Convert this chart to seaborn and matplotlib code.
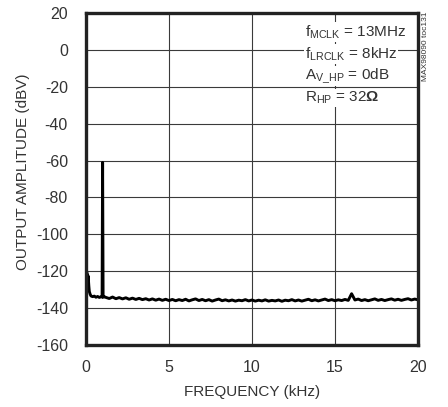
import matplotlib
matplotlib.use("Agg")
import matplotlib.pyplot as plt
from matplotlib import font_manager
import seaborn as sns
import pandas as pd

# ---- data ----
start_freq = [0.0, 0.03, 0.06, 0.1, 0.13, 0.17, 0.2, 0.25, 0.3, 0.4, 0.5, 0.6, 0.7, 0.8, 0.9, 0.97, 1.0, 1.03, 1.1]
start_amp = [-121.0, -121.5, -120.8, -125.0, -122.5, -128.0, -131.0, -132.5, -133.4, -133.8, -133.5, -134.1,
             -133.7, -134.2, -133.9, -134.0, -61.0, -134.1, -133.8]
floor_freq = [1.2, 1.4, 1.6, 1.8, 2.0, 2.2, 2.4, 2.6, 2.8, 3.0, 3.2, 3.4, 3.6, 3.8, 4.0, 4.2, 4.4, 4.6, 4.8,
              5.0, 5.2, 5.4, 5.6, 5.8, 6.0, 6.2, 6.4, 6.6, 6.8, 7.0, 7.2, 7.4, 7.6, 7.8, 8.0, 8.2, 8.4, 8.6,
              8.8, 9.0, 9.2, 9.4, 9.6, 9.8, 10.0, 10.2, 10.4, 10.6, 10.8, 11.0, 11.2, 11.4, 11.6, 11.8, 12.0,
              12.2, 12.4, 12.6, 12.8, 13.0, 13.2, 13.4, 13.6, 13.8, 14.0, 14.2, 14.4, 14.6, 14.8, 15.0, 15.2,
              15.4, 15.6, 15.8, 16.0, 16.2, 16.4, 16.6, 16.8, 17.0, 17.2, 17.4, 17.6, 17.8, 18.0, 18.2, 18.4,
              18.6, 18.8, 19.0, 19.2, 19.4, 19.6, 19.8, 20.0]
floor_amp = [-134.2, -134.8, -134.0, -134.9, -134.3, -135.0, -134.4, -135.2, -134.6, -135.3, -134.7, -135.4,
             -134.9, -135.6, -135.0, -135.7, -135.1, -135.8, -135.2, -135.9, -135.3, -136.0, -135.4, -135.9,
             -135.2, -136.1, -135.5, -135.0, -135.9, -135.3, -136.0, -135.4, -136.2, -135.6, -135.1, -136.0,
             -135.5, -136.1, -135.6, -136.2, -135.7, -136.0, -135.4, -136.1, -135.6, -136.2, -135.7, -136.1,
             -135.5, -136.2, -135.8, -136.1, -135.6, -136.3, -135.7, -136.0, -135.4, -136.1, -135.6, -136.2,
             -135.7, -135.2, -136.0, -135.5, -136.1, -135.6, -135.1, -135.9, -135.4, -136.0, -135.5, -135.9,
             -135.3, -135.8, -132.2, -135.6, -135.1, -135.9, -135.4, -136.0, -135.5, -135.0, -135.8, -135.3,
             -135.9, -135.4, -135.0, -135.7, -135.2, -135.8, -135.3, -134.9, -135.6, -135.1, -135.5]
x_ticks = [0, 5, 10, 15, 20]
y_ticks = [20, 0, -20, -40, -60, -80, -100, -120, -140, -160]
annotations = [r"f$_{\mathregular{MCLK}}$ = 13MHz", r"f$_{\mathregular{LRCLK}}$ = 8kHz",
               r"A$_{\mathregular{V\_HP}}$ = 0dB", r"R$_{\mathregular{HP}}$ = 32$\mathbf{\Omega}$"]

df = pd.DataFrame({"freq": start_freq + floor_freq, "amp": start_amp + floor_amp})

# ---- style ----
sns.set_style("white")
names = {f.name for f in font_manager.fontManager.ttflist}
fam = "Liberation Sans Narrow" if "Liberation Sans Narrow" in names else "Liberation Sans"
plt.rcParams["font.family"] = [fam, "DejaVu Sans"]
plt.rcParams["mathtext.fontset"] = "custom"
plt.rcParams["mathtext.rm"] = fam
plt.rcParams["mathtext.bf"] = "Liberation Sans:bold"
tc = "#333333"

fig = plt.figure(figsize=(4.48, 4.07), dpi=100)
ax = fig.add_axes([86 / 448, 1 - 345 / 407, (418 - 86) / 448, (345 - 13) / 407])

sns.lineplot(data=df, x="freq", y="amp", sort=False, color="black", linewidth=2.1, ax=ax, estimator=None)

ax.set_xlim(0, 20)
ax.set_ylim(-160, 20)
ax.set_xticks(x_ticks)
ax.set_yticks(y_ticks)
ax.set_xticklabels([str(v) for v in x_ticks])
ax.set_yticklabels([str(v) for v in y_ticks])
ax.grid(True, color="#3a3a3a", linewidth=0.8)
ax.set_axisbelow(True)
ax.tick_params(length=0, labelsize=11.5, colors=tc)
ax.tick_params(axis="x", pad=11)
ax.tick_params(axis="y", pad=13)
for s in ax.spines.values():
    s.set_visible(True)
    s.set_color("#222222")
    s.set_linewidth(2.4)
ax.set_xlabel("FREQUENCY (kHz)", fontsize=11, color=tc)
ax.set_ylabel("OUTPUT AMPLITUDE (dBV)", fontsize=11, color=tc)
ax.xaxis.set_label_coords((252 - 86) / 332, (345 - 392) / 332)
ax.yaxis.set_label_coords((23 - 86) / 332, (345 - 172) / 332)
ax.xaxis.label.set_va("center")
ax.yaxis.label.set_va("center")

ys = [32, 54, 76, 98]
for t, yy in zip(annotations, ys):
    ax.text((305 - 86) / 332, (345 - yy) / 332, t, transform=ax.transAxes, fontsize=11, color=tc,
            va="center", ha="left", bbox=dict(facecolor="white", edgecolor="none", pad=0.5))

fig.text(425 / 448, 1 - 46 / 407, "MAX98090 toc131", rotation=90, fontsize=6, color=tc,
         ha="center", va="center")

fig.savefig("out.png", dpi=100)
